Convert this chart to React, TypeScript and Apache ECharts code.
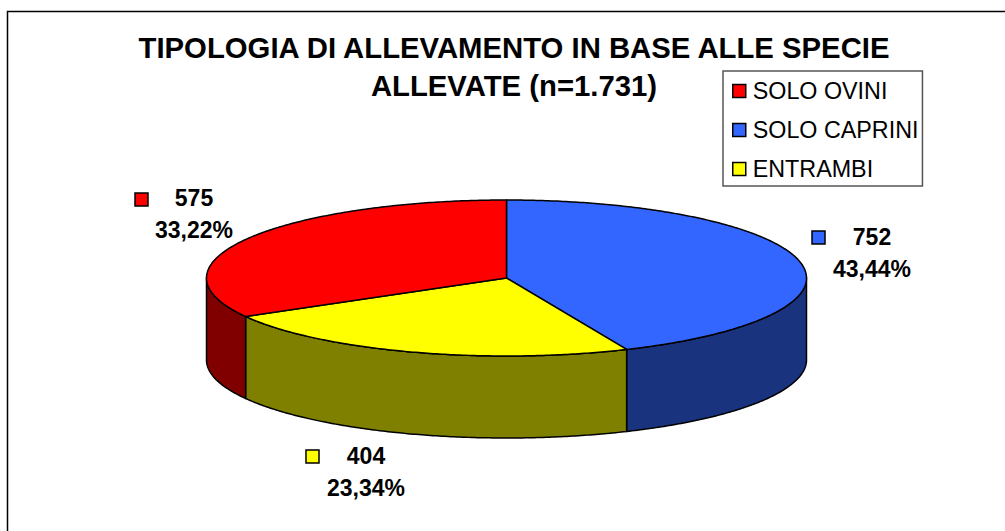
import React, { useEffect, useRef } from "react";
import * as echarts from "echarts";

const titleText = "TIPOLOGIA DI ALLEVAMENTO IN BASE ALLE SPECIE\nALLEVATE (n=1.731)";
const categories = ["SOLO CAPRINI", "ENTRAMBI", "SOLO OVINI"];
const legendOrder = ["SOLO OVINI", "SOLO CAPRINI", "ENTRAMBI"];
const counts = [752, 404, 575];
const percentLabels = ["43,44%", "23,34%", "33,22%"];
const topColors = ["#3366ff", "#ffff00", "#ff0000"];
const sideColors = ["#1a337f", "#808000", "#800000"];

const FONT = '"Liberation Sans", Arial, sans-serif';
const CX = 506.5, CY = 278, RX = 300, RY = 78, DEPTH = 82;
const labelLayout = [
  { mx: 812, my: 231, tx: 872, ty1: 237, ty2: 269 },
  { mx: 306, my: 450, tx: 366, ty1: 456, ty2: 488 },
  { mx: 135, my: 193, tx: 194, ty1: 198, ty2: 230 },
];

const total = counts.reduce((a, b) => a + b, 0);
const pt = (a: number, dy = 0): number[] => [CX + RX * Math.sin(a), CY - RY * Math.cos(a) + dy];
function arc(a0: number, a1: number, dy = 0): number[][] {
  const n = Math.max(2, Math.ceil(Math.abs(a1 - a0) / 0.01));
  const out: number[][] = [];
  for (let i = 0; i <= n; i++) out.push(pt(a0 + ((a1 - a0) * i) / n, dy));
  return out;
}

function renderSlice(idx: number) {
  return (_params: any, api: any) => {
    const value = api.value(0) as number;
    const before = counts.slice(0, idx).reduce((a, b) => a + b, 0);
    const a0 = (before / total) * Math.PI * 2;
    const a1 = a0 + (value / total) * Math.PI * 2;
    const children: any[] = [];
    const s0 = Math.max(a0, Math.PI / 2);
    const s1 = Math.min(a1, (Math.PI * 3) / 2);
    const edge = { stroke: "#000", lineWidth: 1.5, lineJoin: "round" };
    if (s1 > s0) {
      children.push({
        type: "polygon",
        shape: { points: [...arc(s0, s1), ...arc(s1, s0, DEPTH)] },
        style: { fill: sideColors[idx], ...edge },
      });
    }
    children.push({
      type: "polygon",
      shape: { points: [[CX, CY], ...arc(a0, a1)] },
      style: { fill: topColors[idx], ...edge },
    });
    const l = labelLayout[idx];
    children.push({
      type: "rect",
      shape: { x: l.mx, y: l.my, width: 13, height: 13 },
      style: { fill: topColors[idx], stroke: "#000", lineWidth: 1.5 },
    });
    const textStyle = { fill: "#000", font: `bold 23px ${FONT}`, textAlign: "center", textVerticalAlign: "middle" };
    children.push({ type: "text", x: l.tx, y: l.ty1, style: { text: String(value), ...textStyle } });
    children.push({ type: "text", x: l.tx, y: l.ty2, style: { text: percentLabels[idx], ...textStyle } });
    return { type: "group", children };
  };
}

export default function App() {
  const ref = useRef<HTMLDivElement>(null);
  useEffect(() => {
    const chart = echarts.init(ref.current!, null, { renderer: "svg" });
    chart.setOption({
      animation: false,
      backgroundColor: "#ffffff",
      title: {
        text: titleText,
        left: 514,
        top: 28,
        padding: 0,
        textAlign: "center",
        textStyle: { fontFamily: FONT, fontWeight: "bold", fontSize: 29.3, lineHeight: 38.5, color: "#000" },
      },
      legend: {
        show: true,
        data: legendOrder,
        orient: "vertical",
        left: 723,
        top: 71,
        padding: [8.5, 4, 5.5, 9],
        itemGap: 16,
        itemWidth: 13,
        itemHeight: 13,
        icon: "rect",
        backgroundColor: "#fff",
        borderColor: "#555",
        borderWidth: 1.5,
        selectedMode: false,
        itemStyle: { borderColor: "#000", borderWidth: 1.5 },
        textStyle: { fontFamily: FONT, fontSize: 23.3, color: "#000", padding: [0, 3, 0, 2] },
      },
      graphic: [
        {
          type: "polyline",
          silent: true,
          z: -1,
          shape: { points: [[7.5, 540], [7.5, 11.5], [1012, 11.5]] },
          style: { fill: "none", stroke: "#000", lineWidth: 1.5 },
        },
      ],
      series: categories.map((name, i) => ({
        type: "custom",
        name,
        coordinateSystem: "none",
        itemStyle: { color: topColors[i] },
        data: [[counts[i]]],
        encode: { value: 0 },
        renderItem: renderSlice(i),
        silent: true,
      })),
    });
    return () => chart.dispose();
  }, []);
  return <div ref={ref} style={{ position: "fixed", left: 0, top: 0, width: 1005, height: 531 }} />;
}
